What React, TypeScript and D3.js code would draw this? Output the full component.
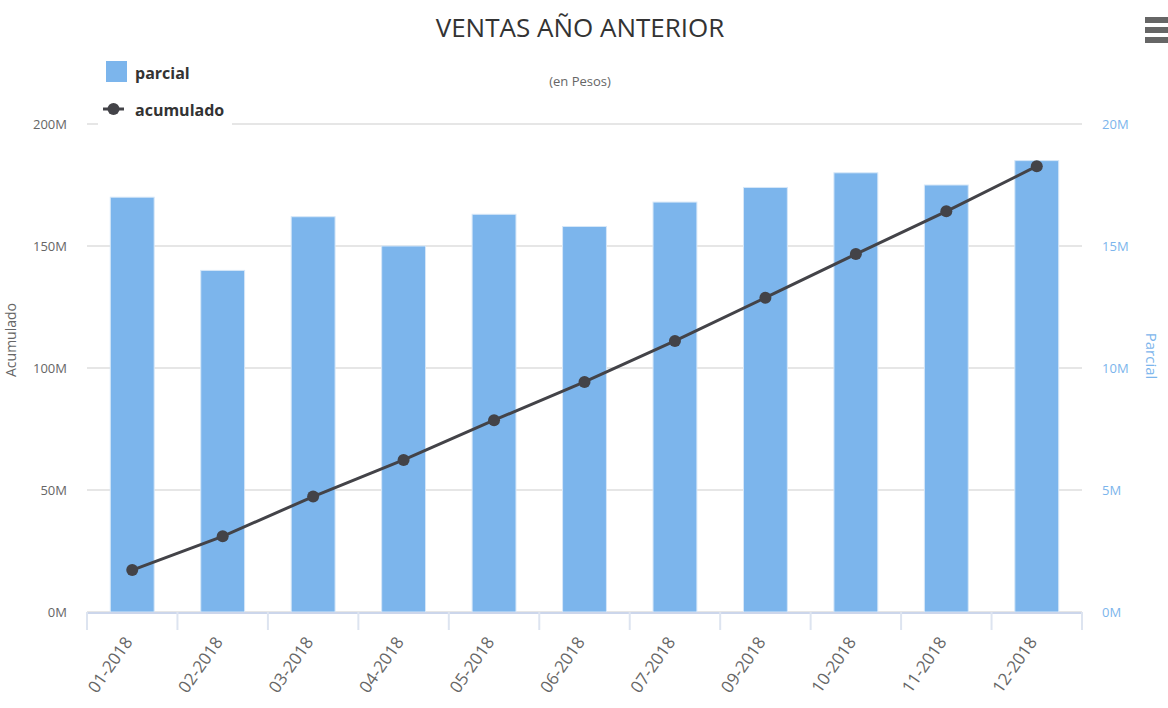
import React, { useEffect } from 'react'
import * as d3 from 'd3'

// months shown on the x axis (August is missing in the source)
const categories = ['01-2018', '02-2018', '03-2018', '04-2018', '05-2018', '06-2018', '07-2018', '09-2018', '10-2018', '11-2018', '12-2018']
// monthly sales, millions (right axis)
const parcial = [17.0, 14.0, 16.2, 15.0, 16.3, 15.8, 16.8, 17.4, 18.0, 17.5, 18.5]
// cumulative sales, millions (left axis)
const acumulado = [17.2, 31.0, 47.3, 62.3, 78.6, 94.3, 111.1, 128.8, 146.7, 164.2, 182.7]
const leftTicks = [0, 50, 100, 150, 200]
const rightTicks = [0, 5, 10, 15, 20]

const W = 1168
const H = 708
const plot = { left: 87, right: 1082, top: 124, bottom: 612 }
const font = '"Open Sans", "Noto Sans", sans-serif'
const barColor = '#7cb5ec'
const lineColor = '#434348'

export default function App() {
  useEffect(() => {
    document.body.style.margin = '0'
  }, [])

  const x = d3.scaleBand<string>().domain(categories).range([plot.left, plot.right]).padding(0)
  const yL = d3.scaleLinear().domain([0, 200]).range([plot.bottom, plot.top])
  const yR = d3.scaleLinear().domain([0, 20]).range([plot.bottom, plot.top])
  const barW = x.bandwidth() * 0.485
  const cx = (c: string) => (x(c) ?? 0) + x.bandwidth() / 2

  const line = d3.line<number>()
    .x((_, i) => cx(categories[i]))
    .y(d => yL(d))

  const edges = [...categories.map(c => x(c) ?? 0), plot.right]

  return (
    <svg width={W} height={H} style={{ display: 'block', fontFamily: font }}>
      <rect width={W} height={H} fill="#fff" />

      {/* grid */}
      {leftTicks.map(t => (
        <line key={t} x1={plot.left} x2={plot.right} y1={yL(t)} y2={yL(t)} stroke="#e6e6e6" strokeWidth={2} />
      ))}

      {/* bars */}
      {parcial.map((v, i) => (
        <rect key={i} x={cx(categories[i]) - barW / 2} y={yR(v)} width={barW} height={plot.bottom - yR(v)}
          fill={barColor} stroke="#d6e7f8" strokeWidth={1} />
      ))}

      {/* x axis */}
      <line x1={plot.left} x2={plot.right + 1} y1={plot.bottom + 1} y2={plot.bottom + 1} stroke="#ccd6eb" strokeWidth={2} />
      {edges.map((e, i) => (
        <line key={i} x1={e} x2={e} y1={plot.bottom} y2={plot.bottom + 18} stroke="#dde4f0" strokeWidth={2} />
      ))}
      {categories.map(c => (
        <text key={c} transform={`translate(${cx(c) + 1},${plot.bottom + 30}) rotate(-55)`} textAnchor="end"
          fontSize={17} fill="#666">{c}</text>
      ))}

      {/* cumulative line */}
      <path d={line(acumulado) ?? ''} fill="none" stroke={lineColor} strokeWidth={3} />
      {acumulado.map((v, i) => (
        <circle key={i} cx={cx(categories[i])} cy={yL(v)} r={6} fill={lineColor} />
      ))}

      {/* left axis */}
      {leftTicks.map(t => (
        <text key={t} x={67} y={yL(t) + 5} textAnchor="end" fontSize={13} fill="#666">{t}M</text>
      ))}
      <text transform={`translate(16,340) rotate(-90)`} textAnchor="middle" fontSize={14} fill="#666">Acumulado</text>

      {/* right axis */}
      {rightTicks.map(t => (
        <text key={t} x={1102} y={yR(t) + 5} textAnchor="start" fontSize={13} fill={barColor}>{t}M</text>
      ))}
      <text transform={`translate(1146,356) rotate(90)`} textAnchor="middle" fontSize={15} fill={barColor}>Parcial</text>

      {/* legend */}
      <rect x={98} y={52} width={134} height={76} fill="#fff" />
      <rect x={106} y={61} width={21} height={21} fill={barColor} />
      <text x={135} y={79} fontSize={16} fontWeight="bold" fill="#333">parcial</text>
      <line x1={103} x2={124} y1={109} y2={109} stroke={lineColor} strokeWidth={3} />
      <circle cx={113.5} cy={109} r={6} fill={lineColor} />
      <text x={135} y={116} fontSize={16} fontWeight="bold" fill="#333">acumulado</text>

      {/* titles */}
      <text x={580} y={37} textAnchor="middle" fontSize={26} fill="#333">VENTAS AÑO ANTERIOR</text>
      <text x={580} y={86} textAnchor="middle" fontSize={13} fill="#666">(en Pesos)</text>

      {/* menu */}
      {[17, 27, 37].map(yy => (
        <rect key={yy} x={1145} y={yy} width={23} height={6} fill="#666" />
      ))}
    </svg>
  )
}
